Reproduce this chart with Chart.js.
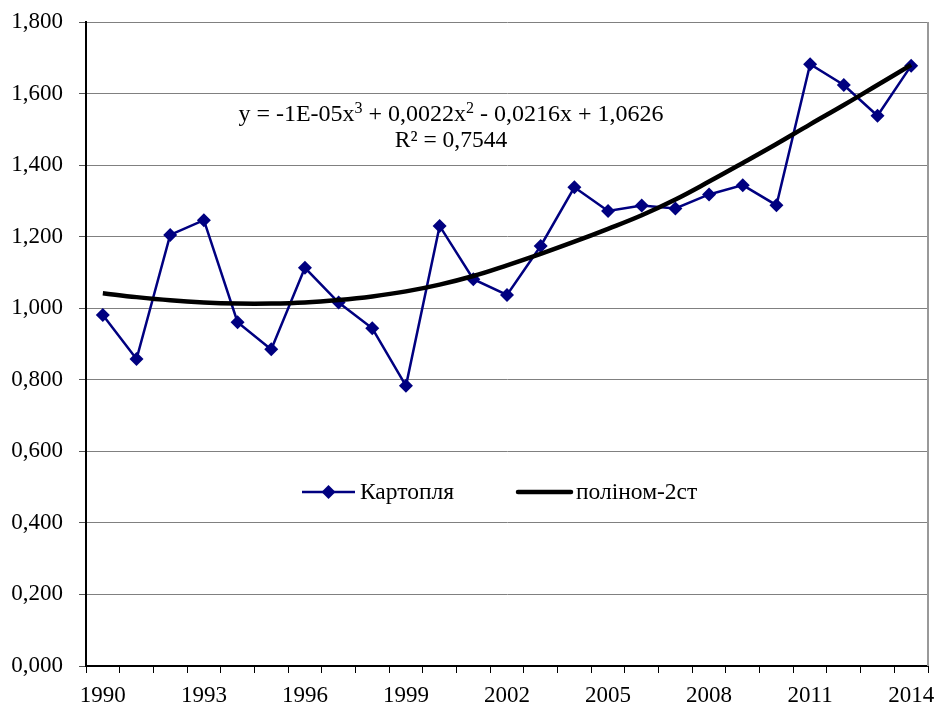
<!DOCTYPE html>
<html>
<head>
<meta charset="utf-8">
<script src="https://cdn.jsdelivr.net/npm/chart.js@4.4.1/dist/chart.umd.min.js"></script>
<style>
  html, body { margin: 0; padding: 0; background: #ffffff; }
  #wrap { width: 937px; height: 704px; }
</style>
</head>
<body>
<div id="wrap"><canvas id="chart" width="937" height="704"></canvas></div>
<script>
// Years on the category axis
const years = [1990, 1991, 1992, 1993, 1994, 1995, 1996, 1997, 1998, 1999,
               2000, 2001, 2002, 2003, 2004, 2005, 2006, 2007, 2008, 2009,
               2010, 2011, 2012, 2013, 2014];

// Only every third year carries a label
const labeledYears = [1990, 1993, 1996, 1999, 2002, 2005, 2008, 2011, 2014];

// Potato series ("Картопля")
const potato = [0.981, 0.858, 1.205, 1.246, 0.961, 0.885, 1.113, 1.016, 0.944, 0.783,
                1.230, 1.081, 1.037, 1.174, 1.338, 1.272, 1.287, 1.279, 1.318, 1.344,
                1.288, 1.682, 1.624, 1.538, 1.678];

// Polynomial trend values per year ("поліном-2ст")
const trend = [1.042, 1.031, 1.022, 1.016, 1.013, 1.013, 1.016, 1.023, 1.033, 1.047,
               1.066, 1.090, 1.120, 1.152, 1.186, 1.222, 1.260, 1.304, 1.354, 1.406,
               1.459, 1.514, 1.568, 1.624, 1.680];

// Trend equation pieces: [text, isSuperscript]
const equationParts = [
  ['y = -1E-05x', false], ['3', true],
  [' + 0,0022x', false], ['2', true],
  [' - 0,0216x + 1,0626', false]
];
const rSquaredText = 'R² = 0,7544';

const seriesNames = ['Картопля', 'поліном-2ст'];

const NAVY = '#000080';
const FONT = '"Liberation Serif", "Times New Roman", serif';

// Draws the plot-area right border, the equation text and the inner legend
const overlayPlugin = {
  id: 'overlay',
  afterDraw(chart) {
    const ctx = chart.ctx;
    const area = chart.chartArea;
    ctx.save();

    // right border of the plot area
    ctx.strokeStyle = '#999999';
    ctx.lineWidth = 2;
    ctx.beginPath();
    ctx.moveTo(area.right, area.top);
    ctx.lineTo(area.right, area.bottom);
    ctx.stroke();

    // trend equation
    const mainSize = 24, supSize = 16;
    const cx = 451;
    let total = 0;
    for (const [t, sup] of equationParts) {
      ctx.font = (sup ? supSize : mainSize) + 'px ' + FONT;
      total += ctx.measureText(t).width;
    }
    let x = cx - total / 2;
    const baseY = 121;
    ctx.fillStyle = '#000000';
    ctx.textBaseline = 'alphabetic';
    ctx.textAlign = 'left';
    for (const [t, sup] of equationParts) {
      ctx.font = (sup ? supSize : mainSize) + 'px ' + FONT;
      ctx.fillText(t, x, sup ? baseY - 8 : baseY);
      x += ctx.measureText(t).width;
    }
    ctx.font = '23.5px ' + FONT;
    ctx.textAlign = 'center';
    ctx.fillText(rSquaredText, cx, 147);

    // legend inside the plot
    const ly = 492;
    ctx.textAlign = 'left';
    ctx.textBaseline = 'middle';
    ctx.font = '23.5px ' + FONT;

    ctx.strokeStyle = NAVY;
    ctx.lineWidth = 2.5;
    ctx.beginPath();
    ctx.moveTo(302, ly);
    ctx.lineTo(355, ly);
    ctx.stroke();
    ctx.fillStyle = NAVY;
    ctx.beginPath();
    ctx.moveTo(328.5, ly - 7);
    ctx.lineTo(335.5, ly);
    ctx.lineTo(328.5, ly + 7);
    ctx.lineTo(321.5, ly);
    ctx.closePath();
    ctx.fill();
    ctx.fillStyle = '#000000';
    ctx.fillText(seriesNames[0], 360, ly + 1);

    ctx.strokeStyle = '#000000';
    ctx.lineWidth = 4.5;
    ctx.lineCap = 'round';
    ctx.beginPath();
    ctx.moveTo(518, ly);
    ctx.lineTo(571, ly);
    ctx.stroke();
    ctx.fillText(seriesNames[1], 576, ly + 1);

    ctx.restore();
  }
};

new Chart(document.getElementById('chart'), {
  type: 'line',
  data: {
    labels: years.map(String),
    datasets: [
      {
        label: seriesNames[1],
        data: trend,
        borderColor: '#000000',
        borderWidth: 4.5,
        pointRadius: 0,
        tension: 0.4,
        fill: false,
        order: 0
      },
      {
        label: seriesNames[0],
        data: potato,
        borderColor: NAVY,
        backgroundColor: NAVY,
        borderWidth: 2.5,
        pointStyle: 'rectRot',
        pointRadius: 7,
        pointBorderWidth: 0,
        pointBackgroundColor: NAVY,
        tension: 0,
        fill: false,
        order: 1
      }
    ]
  },
  options: {
    responsive: false,
    animation: false,
    devicePixelRatio: 1,
    layout: { padding: { left: 0, right: 9, top: 22, bottom: 0 } },
    plugins: {
      legend: { display: false },
      tooltip: { enabled: false }
    },
    scales: {
      x: {
        type: 'category',
        offset: true,
        grid: {
          offset: true,
          drawOnChartArea: false,
          drawTicks: true,
          tickLength: 7,
          color: '#000000',
          lineWidth: 1
        },
        border: { display: true, color: '#000000', width: 2 },
        ticks: {
          autoSkip: false,
          maxRotation: 0,
          minRotation: 0,
          padding: 9,
          color: '#000000',
          font: { family: FONT, size: 23 },
          callback: function (value, index) {
            const yr = years[index];
            return labeledYears.includes(yr) ? String(yr) : '';
          }
        },
        afterFit(scale) {
          scale.height = 38;
          scale.paddingLeft = 0;
          scale.paddingRight = 0;
        }
      },
      y: {
        min: 0,
        max: 1.8,
        grid: {
          color: '#808080',
          lineWidth: 1,
          drawTicks: true,
          tickLength: 7,
          tickColor: '#555555'
        },
        border: { display: true, color: '#000000', width: 2 },
        ticks: {
          stepSize: 0.2,
          padding: 16,
          color: '#000000',
          font: { family: FONT, size: 23 },
          callback: v => Number(v).toFixed(3).replace('.', ',')
        },
        afterFit(scale) {
          scale.width = 86;
          scale.paddingTop = 0;
          scale.paddingBottom = 0;
        }
      }
    }
  },
  plugins: [overlayPlugin]
});
</script>
</body>
</html>
